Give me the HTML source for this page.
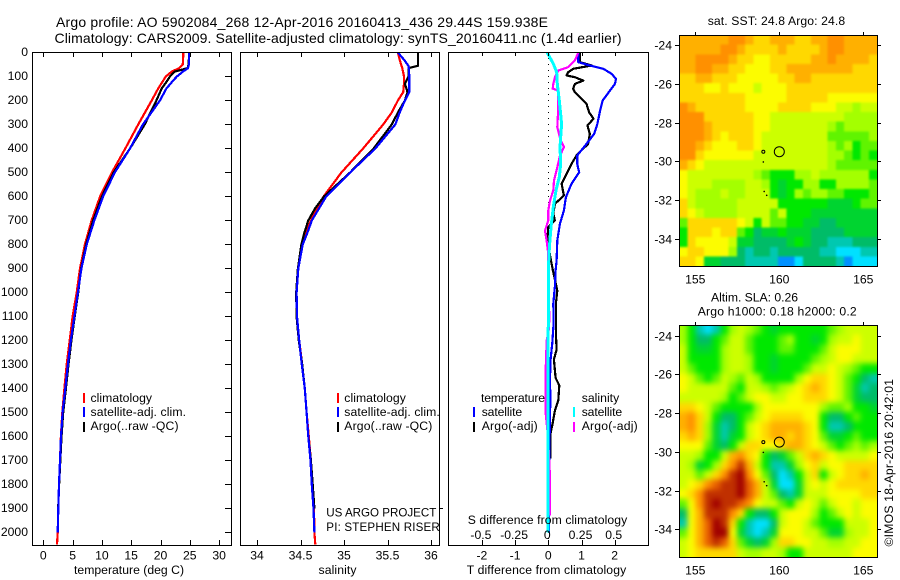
<!DOCTYPE html>
<html lang="en">
<head>
<meta charset="utf-8">
<title>Argo profile</title>
<style>
html,body{margin:0;padding:0;background:#fff;}
svg{display:block;}
text{font-family:"Liberation Sans",sans-serif;font-size:12.2px;fill:#000;}
.title{font-size:14px;}
</style>
</head>
<body>
<svg id="chart" xmlns="http://www.w3.org/2000/svg" width="900" height="580" viewBox="0 0 900 580">
<defs>
<filter id="smooth-sla" x="-5%" y="-5%" width="110%" height="110%" color-interpolation-filters="sRGB">
<feGaussianBlur stdDeviation="3"/>
<feComponentTransfer><feFuncA type="linear" slope="50"/></feComponentTransfer>
</filter>
<filter id="smooth-sst" x="-5%" y="-5%" width="110%" height="110%" color-interpolation-filters="sRGB">
<feGaussianBlur stdDeviation="1"/>
<feComponentTransfer><feFuncA type="linear" slope="50"/></feComponentTransfer>
</filter>
<clipPath id="clip-sst-map"><rect x="679" y="35" width="198" height="231"/></clipPath>
<clipPath id="clip-sla-map"><rect x="679" y="325" width="198" height="232"/></clipPath>
</defs>
<text class="title" x="56" y="27" textLength="492">Argo profile: AO 5902084_268 12-Apr-2016 20160413_436 29.44S 159.938E</text>
<text class="title" x="54.5" y="43" textLength="567">Climatology: CARS2009. Satellite-adjusted climatology: synTS_20160411.nc (1.4d earlier)</text>
<g id="marks"></g>
<g>
<rect x="83" y="393" width="2" height="10" fill="#ff0000"/>
<text x="90.5" y="402" textLength="61.5">climatology</text>
<rect x="83" y="407" width="2" height="10" fill="#0000ff"/>
<text x="90.5" y="416" textLength="95.5">satellite-adj. clim.</text>
<rect x="83" y="422" width="2" height="10" fill="#000"/>
<text x="90.5" y="430" textLength="88">Argo(..raw -QC)</text>
</g>
<g>
<rect x="337" y="393" width="2" height="10" fill="#ff0000"/>
<text x="344.3" y="402" textLength="61.5">climatology</text>
<rect x="337" y="407" width="2" height="10" fill="#0000ff"/>
<text x="344.3" y="416" textLength="95.5">satellite-adj. clim.</text>
<rect x="337" y="422" width="2" height="10" fill="#000"/>
<text x="344.3" y="430" textLength="88">Argo(..raw -QC)</text>
<text x="326.3" y="516.5" style="font-size:11.6px" textLength="110">US ARGO PROJECT</text>
<text x="326.3" y="531" style="font-size:11.6px" textLength="113.5">PI: STEPHEN RISER</text>
</g>
<g>
<text x="481" y="402" textLength="64">temperature</text>
<text x="581.7" y="402" textLength="37.5">salinity</text>
<rect x="473" y="407" width="2" height="10" fill="#0000ff"/>
<text x="481.7" y="416" textLength="40.5">satellite</text>
<rect x="473" y="422" width="2" height="10" fill="#000"/>
<text x="481.7" y="430" textLength="56">Argo(-adj)</text>
<rect x="573" y="407" width="2" height="10" fill="#00ffff"/>
<text x="581.7" y="416" textLength="40.5">satellite</text>
<rect x="573" y="422" width="2" height="10" fill="#ff00ff"/>
<text x="581.7" y="430" textLength="56">Argo(-adj)</text>
</g>
<text x="74" y="574" textLength="110">temperature (deg C)</text>
<text x="318.5" y="574" textLength="38">salinity</text>
<text x="466.7" y="574" textLength="159.5">T difference from climatology</text>
<text x="467.7" y="524" textLength="159.5">S difference from climatology</text>
<text x="707.7" y="25" textLength="137.5">sat. SST: 24.8 Argo: 24.8</text>
<text x="711" y="301.5" textLength="87">Altim. SLA: 0.26</text>
<text x="697.7" y="315.5" textLength="159">Argo h1000: 0.18 h2000: 0.2</text>
<text transform="translate(893,546.5) rotate(-90)" x="0" y="0" textLength="167.5">©IMOS 18-Apr-2016 20:42:01</text>
</svg>
<script>
/* ---------- profile data (depth in metres) ---------- */
const depthTicks = [0,100,200,300,400,500,600,700,800,900,1000,1100,1200,1300,1400,1500,1600,1700,1800,1900,2000];
const tempTicks = [0,5,10,15,20,25,30];
const salTicks = [34,34.5,35,35.5,36];
const tDiffTicks = [-2,-1,0,1,2];
const sDiffTicks = [-0.5,-0.25,0,0.25,0.5];
const lonTicks = [155,160,165];
const latTicks = [-24,-26,-28,-30,-32,-34];

const tempDepths = [0,50,65,80,100,116,150,200,300,400,500,600,700,800,900,1000,1100,1200,1300,1400,1500,1600,1700,1800,1900,2000,2050];
const tempClim = [23.9,23.8,23.2,21.9,20.9,20.5,19.6,18.5,16.2,14,11.7,9.7,8.25,7.1,6.26,5.7,5.0,4.5,4.0,3.6,3.25,3.0,2.85,2.68,2.56,2.46,2.34];
const tempSat = [24.9,24.85,24.7,23.8,22.8,22.2,21,19.9,17,14.8,12.2,10.2,8.7,7.4,6.5,5.9,5.3,4.7,4.2,3.75,3.3,3.02,2.85,2.68,2.56,2.46];
const tempArgo = [24.9,24.8,24.6,22.4,21.6,21.2,20.2,19.3,17.3,14.8,12,10,8.5,7.3,6.45,5.95,5.35,4.8,4.3,3.85,3.4,3.1,2.9,2.7,2.55];

const salDepths = [0,30,55,65,100,130,165,200,250,300,400,500,600,650,700,750,800,900,1000,1100,1200,1300,1400,1500,1600,1700,1800,1900,2000,2050];
const salClim = [35.62,35.64,35.66,35.67,35.69,35.69,35.68,35.62,35.55,35.45,35.22,34.97,34.765,34.686,34.62,34.565,34.52,34.47,34.455,34.46,34.485,34.52,34.55,34.57,34.595,34.62,34.635,34.655,34.66,34.67];
const salSat = [35.62,35.69,35.74,35.745,35.75,35.75,35.75,35.7,35.64,35.59,35.36,35.07,34.795,34.713,34.63,34.58,34.525,34.475,34.455,34.46,34.485,34.515,34.55,34.57,34.59,34.615,34.63,34.65,34.66];
const salArgo = [35.85,35.85,35.85,35.74,35.74,35.7,35.73,35.7,35.62,35.55,35.34,35.07,34.77,34.667,34.59,34.545,34.51,34.47,34.45,34.455,34.48,34.52,34.55,34.57,34.59,34.62,34.64,34.66];

const tSatDepths = [0,40,54,68,89,110,131,158,200,242,297,339,381,429,464,499,547,603,658,714,783,867,908,975,1046,1130,1210,1279,1356,1450,1600,2000];
const tSatDiff = [0.9,0.9,1.25,1.66,1.91,2.04,2.01,1.86,1.64,1.56,1.48,1.38,1.15,0.87,0.87,0.93,0.7,0.53,0.47,0.35,0.27,0.25,0.22,0.2,0.15,0.16,0.12,0.07,0.05,0.06,0.04,0.02];
const tArgoDepths = [0,40,54,68,82,96,103,117,131,151,165,186,214,249,276,304,339,381,408,429,464,506,547,596,631,672,700,728,783,867,908,992,1046,1171,1238,1279,1356,1387,1450,1492,1546,1587,1692];
const tArgoDiff = [0.95,0.95,1.31,0.75,0.6,0.55,0.8,1.05,0.8,0.75,0.8,0.95,1.15,1.23,1.36,1.18,1.25,1.2,1.0,0.85,0.7,0.55,0.4,0.47,0.2,0.15,0.2,0,-0.03,0.08,0.14,0.27,0.23,0.23,0.25,0.17,0.22,0.33,0.3,0.2,0.13,0.07,0.07];
const sSatDepths = [0,47,82,131,200,297,394,464,519,575,644,728,811,906,1500,2000];
const sSatDiff = [-0.008,0.038,0.063,0.068,0.083,0.1,0.088,0.093,0.083,0.058,0.038,0.02,0.008,0,-0.001,-0.002];
const sArgoDepths = [0,33,61,75,103,131,151,158,228,311,367,394,429,478,533,575,617,658,700,742,783,839,906,1000,1100,1150,1200,1330,1500,1600,1760,1930];
const sArgoDiff = [0.226,0.2,0.15,0.075,0.05,0.038,0.033,0.075,0.075,0.068,0.093,0.118,0.088,0.068,0.043,0.038,0.013,0,0,-0.025,-0.013,0,0,0.003,0.0075,0.005,-0.012,-0.02,-0.02,-0.002,0.012,0.012];

/* ---------- map data: colour-level per cell, north to south ---------- */
const sstLevels = [
[11,11,11,11,11,11,12,12,11,10,10,11,11,11,10,10,11,11,12,12,11,11,11,11],
[11,11,11,11,11,12,12,11,10,10,10,10,11,10,10,10,10,11,12,12,11,11,11,11],
[11,11,12,12,12,12,11,10,10,9,9,10,10,10,10,10,11,11,12,11,11,11,11,10],
[11,11,12,12,11,11,10,10,9,9,9,10,10,11,11,11,11,11,11,11,11,10,10,10],
[10,10,11,11,10,10,10,9,9,9,9,9,10,10,11,11,10,10,10,10,10,10,10,10],
[10,10,10,9,9,10,9,9,9,8,9,9,9,10,10,10,10,10,10,10,10,10,10,10],
[10,10,10,10,10,10,10,10,9,9,9,9,9,10,10,10,10,10,9,9,9,9,9,9],
[12,11,10,10,10,10,10,10,9,9,9,9,10,10,10,10,9,9,9,8,8,7,8,8],
[12,12,12,10,10,10,10,10,10,9,9,8,8,8,8,8,8,8,8,8,7,7,7,7],
[12,12,12,11,10,10,10,10,10,9,9,8,8,8,8,8,8,8,7,6,7,7,7,7],
[12,12,12,11,10,9,10,10,10,9,8,8,8,8,8,8,8,8,6,6,6,6,6,7],
[12,12,11,10,9,9,9,10,10,9,8,8,8,8,8,8,8,8,7,6,7,5,6,6],
[12,12,10,9,9,9,9,9,9,8,8,8,8,8,8,8,8,8,7,7,6,5,6,5],
[11,10,9,8,8,8,8,8,8,8,8,8,8,8,8,8,8,8,7,6,6,6,6,6],
[9,8,8,8,8,8,8,8,8,7,6,5,5,5,7,7,8,7,7,7,7,7,7,5],
[9,8,8,8,7,7,7,7,8,8,7,5,4,5,5,7,7,5,5,7,7,7,7,6],
[9,8,7,7,7,8,7,7,8,8,8,5,4,5,7,6,7,7,6,6,5,5,5,6],
[10,8,7,7,7,7,7,8,8,8,8,8,5,5,5,5,5,5,4,4,4,5,6,6],
[10,9,8,7,7,7,7,8,8,8,8,6,8,5,5,5,4,4,4,4,4,4,4,4],
[6,10,10,10,10,10,10,9,8,5,8,6,6,5,5,4,4,3,3,4,4,4,4,4],
[5,10,10,10,9,10,10,6,5,3,4,4,5,4,4,4,3,3,3,3,4,4,4,4],
[5,10,9,9,9,9,8,4,4,3,3,3,3,4,5,4,3,3,2,2,2,3,3,3],
[9,10,10,9,9,9,7,3,2,3,3,2,3,3,3,3,3,2,2,1,1,1,2,2],
[10,10,9,4,4,3,3,3,2,2,2,2,0,0,1,3,3,3,3,2,0,1,1,1]
];
const slaLevels = [
[7,5,2,1,2,5,7,8,7,6,5,4,5,5,5,5,5,5,6,7,8,8,8,8],
[7,5,3,3,5,6,8,8,6,5,5,5,6,7,5,5,4,5,7,8,8,9,8,8],
[8,5,4,4,5,7,8,8,6,5,5,5,6,6,5,5,5,6,8,9,9,9,8,8],
[8,5,5,5,5,7,8,8,7,5,5,4,5,5,5,5,6,7,8,9,9,8,8,8],
[8,6,5,5,5,7,8,8,7,5,5,4,5,5,5,6,8,8,9,8,7,6,5,5],
[9,8,6,5,6,8,7,6,8,7,5,5,5,5,7,9,10,10,9,8,6,5,3,2],
[9,8,8,8,8,8,6,5,8,8,7,6,7,8,9,10,11,10,9,8,6,4,2,3],
[8,8,8,8,8,7,5,6,8,9,9,8,8,9,9,10,10,10,9,8,6,4,3,3],
[10,10,9,8,6,5,5,5,5,7,9,9,9,9,9,9,9,7,6,6,7,5,5,4],
[11,12,10,8,5,3,3,5,6,8,9,10,10,10,10,9,9,5,3,3,5,6,5,5],
[11,12,10,7,4,2,3,5,8,9,10,11,11,11,11,10,9,5,2,2,3,5,5,5],
[10,11,10,7,4,2,4,5,8,9,10,11,11,10,11,10,9,6,4,4,5,6,5,5],
[9,9,9,6,4,3,5,8,10,10,9,9,10,11,11,10,9,8,6,5,6,7,6,7],
[8,8,7,5,5,8,11,12,10,9,5,3,4,6,8,10,11,10,9,8,8,8,8,9],
[8,7,4,5,7,10,12,14,11,8,5,2,2,4,7,9,10,8,9,9,10,10,10,10],
[8,8,6,8,10,12,14,15,12,9,6,3,1,2,5,8,10,5,8,9,10,10,11,10],
[8,9,10,12,13,14,14,15,13,11,8,4,1,1,4,8,9,8,9,10,10,10,10,10],
[9,10,12,14,14,14,14,15,13,11,8,6,3,2,4,8,8,8,9,9,9,9,10,10],
[6,9,12,14,15,14,14,13,12,9,8,8,6,5,8,9,8,6,8,9,9,8,9,9],
[3,9,11,14,14,14,12,10,5,3,3,5,8,9,9,9,7,5,6,8,9,8,9,9],
[2,9,11,13,15,14,10,5,2,1,1,3,8,9,9,8,6,5,5,5,8,8,8,9],
[6,9,11,13,15,15,9,4,2,1,2,4,9,9,9,8,8,6,4,4,7,8,8,9],
[8,9,11,13,14,13,10,6,4,3,4,7,10,10,9,9,8,8,7,7,8,8,9,9],
[8,9,10,10,10,10,10,8,7,7,8,8,7,5,5,8,8,8,8,8,8,9,9,9]
];
const floatLon = [160,159.05];
const floatLat = [-29.5,-29.5];
const trackLon = [159.05,159.1,159.25];
const trackLat = [-30.03,-31.55,-31.75];
const levelColors = ["#0090ff","#00e0ff","#00c8b0","#00bc68","#00d430","#00e800","#60f400","#a4ff00","#ccff00","#fcfc00","#ffd800","#ffb000","#ff9000","#e86000","#c03000","#a00000"];

/* ---------- scales ---------- */
const NS = "http://www.w3.org/2000/svg";
const root = document.getElementById("marks");
const yDepth = d => 52.5 + d * 0.24;
const xTemp = t => 43.3 + t * 5.86;
const xSal = s => 257 + (s - 34) * 87;
const xTDiff = t => 548.3 + t * 33.2;
const xSDiff = s => 548.3 + s * 132.8;
const xLon = lon => 695.3 + (lon - 155) * 16.8;
const yLat1 = lat => 45 + (-24 - lat) * 19.4;
const yLat2 = lat => 335.7 + (-24 - lat) * 19.35;

function add(tag, attrs, name, parent) {
  const el = document.createElementNS(NS, tag);
  for (const k in attrs) el.setAttribute(k, attrs[k]);
  
  
  (parent || root).appendChild(el);
  return el;
}
function label(str, x, y, anchor, name) {
  const el = add("text", {x: x, y: y, "text-anchor": anchor}, name);
  el.textContent = str;
  return el;
}
function hline(x1, x2, y, name) {
  add("line", {x1: x1, x2: x2, y1: y, y2: y, stroke: "#000", "stroke-width": 1, "shape-rendering": "crispEdges"}, name);
}
function vline(x, y1, y2, name) {
  add("line", {x1: x, x2: x, y1: y1, y2: y2, stroke: "#000", "stroke-width": 1, "shape-rendering": "crispEdges"}, name);
}
function series(depths, values, xf, color, name, width) {
  const n = Math.min(depths.length, values.length);
  let pts = [];
  for (let i = 0; i < n; i++) pts.push(xf(values[i]).toFixed(1) + "," + yDepth(depths[i]).toFixed(1));
  add("polyline", {points: pts.join(" "), fill: "none", stroke: color, "stroke-width": width || 2.2, "stroke-linejoin": "round", "shape-rendering": "crispEdges"}, name);
}
function frame(x, y, w, h, name) {
  add("rect", {x: x + 0.5, y: y + 0.5, width: w, height: h, fill: "none", stroke: "#000", "stroke-width": 1, "shape-rendering": "crispEdges"}, name);
}

/* ---------- profile panels ---------- */
const pTop = 52, pBot = 545;
series(tempDepths, tempClim, xTemp, "#ff0000", "temperature-climatology-line");
series(tempDepths, tempArgo, xTemp, "#000000", "temperature-argo-line");
series(tempDepths, tempSat, xTemp, "#0000ff", "temperature-satellite-line");
series(salDepths, salClim, xSal, "#ff0000", "salinity-climatology-line");
series(salDepths, salArgo, xSal, "#000000", "salinity-argo-line");
series(salDepths, salSat, xSal, "#0000ff", "salinity-satellite-line");
add("line", {x1: 548.5, x2: 548.5, y1: pTop, y2: pBot, stroke: "#000", "stroke-width": 1, "stroke-dasharray": "1 5", "shape-rendering": "crispEdges"}, "zero-difference-line");
series(tArgoDepths, tArgoDiff, xTDiff, "#000000", "t-difference-argo-line");
series(tSatDepths, tSatDiff, xTDiff, "#0000ff", "t-difference-satellite-line");
series(sArgoDepths, sArgoDiff, xSDiff, "#ff00ff", "s-difference-argo-line");
series(sSatDepths, sSatDiff, xSDiff, "#00ffff", "s-difference-satellite-line", 3);

frame(32, pTop, 199, pBot - pTop, "temperature-panel-frame");
frame(240, pTop, 199, pBot - pTop, "salinity-panel-frame");
frame(448, pTop, 200, pBot - pTop, "difference-panel-frame");

depthTicks.forEach(d => {
  const y = Math.round(yDepth(d)) + 0.5 - 1;
  label(String(d), 28, y + 3.5, "end", "depth-tick-label");
  if (d > 0) hline(225, 231, y, "depth-tick");
});
tempTicks.forEach(t => {
  const x = Math.round(xTemp(t)) + 0.5;
  vline(x, pTop, pTop + 5, "temperature-top-tick");
  vline(x, pBot - 5, pBot, "temperature-bottom-tick");
  label(String(t), xTemp(t), 559.5, "middle", "temperature-tick-label");
});
salTicks.forEach(s => {
  const x = Math.round(xSal(s)) + 0.5;
  vline(x, pTop, pTop + 5, "salinity-top-tick");
  vline(x, pBot - 5, pBot, "salinity-bottom-tick");
  label(String(s), xSal(s), 559.5, "middle", "salinity-tick-label");
});
hline(439, 443, 508.5, "panel-gap-tick");
tDiffTicks.forEach(t => {
  const x = Math.round(xTDiff(t)) + 0.5;
  vline(x, pTop, pTop + 4, "difference-top-tick");
  vline(x, pBot - 5, pBot, "difference-bottom-tick");
  label(String(t), xTDiff(t), 559.5, "middle", "t-difference-tick-label");
});
sDiffTicks.forEach(s => {
  label(String(s), xSDiff(s) - 1, 539, "middle", "s-difference-tick-label");
});

/* ---------- maps ---------- */
function drawMap(levels, top, h, yLat, prefix, filterId) {
  const left = 679, w = 198;
  const rows = levels.length;
  const clip = add("g", {"clip-path": "url(#clip-" + prefix + ")"}, prefix + "-clip");
  const cells = add("g", {filter: "url(#" + filterId + ")"}, prefix + "-cells", clip);
  levels.forEach((row, r) => {
    const cw = w / row.length, ch = h / rows;
    row.forEach((v, c) => {
      add("rect", {
        x: (left + c * cw).toFixed(2), y: (top + r * ch).toFixed(2),
        width: (cw + 0.3).toFixed(2), height: (ch + 0.3).toFixed(2),
        fill: levelColors[v], "shape-rendering": "crispEdges"
      }, prefix + "-cell", cells);
    });
  });
  frame(left, top, w, h, prefix + "-frame");
  lonTicks.forEach(lon => {
    const x = Math.round(xLon(lon)) + 0.5;
    vline(x, top - 3, top, prefix + "-top-tick");
    label(String(lon), xLon(lon), top + h + 17.5, "middle", prefix + "-lon-label");
  });
  latTicks.forEach(lat => {
    const y = Math.round(yLat(lat)) + 0.5;
    hline(675, left, y, prefix + "-left-tick");
    hline(left + w, left + w + 4, y, prefix + "-right-tick");
    label(String(lat), 672, y + 4, "end", prefix + "-lat-label");
  });
  add("circle", {cx: xLon(floatLon[0]), cy: yLat(floatLat[0]), r: 5, fill: "none", stroke: "#000", "stroke-width": 1}, prefix + "-argo-position");
  add("circle", {cx: xLon(floatLon[1]), cy: yLat(floatLat[1]), r: 1.5, fill: "none", stroke: "#000", "stroke-width": 1}, prefix + "-float-start");
  trackLon.forEach((lon, i) => {
    add("circle", {cx: xLon(lon), cy: yLat(trackLat[i]), r: 0.8, fill: "#000"}, prefix + "-track-point");
  });
}
drawMap(sstLevels, 35, 231, yLat1, "sst-map", "smooth-sst");
drawMap(slaLevels, 325, 232, yLat2, "sla-map", "smooth-sla");
</script>
</body>
</html>
